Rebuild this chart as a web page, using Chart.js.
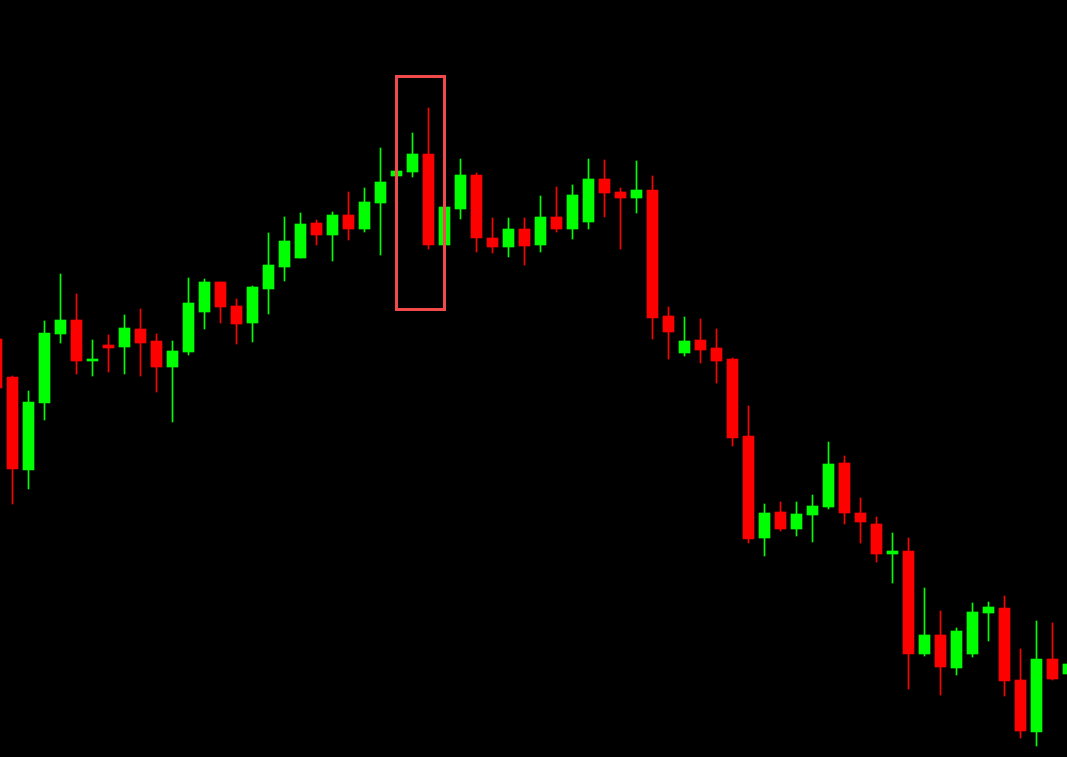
<!DOCTYPE html>
<html>
<head>
<meta charset="utf-8">
<script src="https://cdn.jsdelivr.net/npm/chart.js@4/dist/chart.umd.min.js"></script>
<style>
  html, body { margin: 0; padding: 0; background: #000; }
  #wrap { width: 1067px; height: 757px; position: relative; }
</style>
</head>
<body>
<div id="wrap"><canvas id="myChart"></canvas></div>
<script>
// candle values (first and last candle are cut by the edges)
const openPrices = [418, 380, 287, 354, 423, 437, 396, 412, 410, 428, 416, 390, 405, 445, 475, 451, 434,
  468, 490, 499, 534, 522, 542, 528, 554, 581, 585, 603, 512, 548, 582, 519, 510, 528, 512, 540, 528,
  535, 578, 565, 559, 567, 441, 404, 417, 409, 398, 321, 219, 245, 228, 242, 250, 294, 244, 233, 203,
  206, 103, 122, 89, 103, 144, 149, 77, 25, 98, 83];
const highPrices = [422, 381, 366, 436, 483, 463, 417, 422, 442, 448, 423, 416, 479, 478, 475, 458, 471,
  524, 540, 544, 537, 545, 565, 569, 609, 586, 624, 649, 550, 598, 584, 539, 539, 539, 561, 570, 572,
  598, 597, 569, 596, 581, 450, 440, 438, 428, 399, 351, 253, 255, 255, 262, 315, 301, 259, 240, 224,
  219, 169, 146, 129, 154, 155, 161, 108, 136, 134, 97];
const lowPrices = [365, 253, 268, 337, 414, 383, 381, 385, 383, 381, 365, 335, 402, 428, 434, 413, 415,
  443, 476, 499, 512, 496, 517, 525, 502, 581, 580, 508, 512, 538, 505, 504, 500, 492, 505, 525, 518,
  528, 540, 508, 544, 418, 398, 401, 394, 374, 311, 214, 201, 226, 221, 215, 248, 233, 214, 195, 174,
  68, 101, 62, 82, 100, 116, 61, 19, 11, 77, 79];
const closePrices = [369, 288, 355, 424, 437, 396, 398, 409, 429, 414, 390, 406, 454, 475, 450, 433, 470,
  492, 516, 533, 522, 542, 528, 555, 575, 586, 603, 512, 550, 582, 519, 510, 528, 511, 540, 528, 562,
  578, 564, 559, 567, 439, 425, 416, 407, 396, 319, 218, 244, 228, 243, 251, 293, 244, 235, 203, 206,
  103, 122, 90, 126, 145, 150, 76, 26, 98, 78, 93];

const upColor = "#00ff00";
const downColor = "#ff0000";

// candle number -1 is the one cut at the left edge
const bodies = openPrices.map((o, i) => ({ x: i - 1, y: [o, closePrices[i]] }));
const wicks = lowPrices.map((l, i) => ({ x: i - 1, y: [l, highPrices[i]] }));
const colors = openPrices.map((o, i) => (closePrices[i] >= o ? upColor : downColor));

const highlightBox = {
  id: "highlightBox",
  afterDatasetsDraw(chart) {
    const { ctx, scales } = chart;
    const left = scales.x.getPixelForValue(24);
    const right = scales.x.getPixelForValue(27);
    const top = scales.y.getPixelForValue(680.5);
    const bottom = scales.y.getPixelForValue(447.5);
    ctx.save();
    ctx.strokeStyle = "#f24a4a";
    ctx.lineWidth = 3;
    ctx.strokeRect(left, top, right - left, bottom - top);
    ctx.restore();
  },
};

new Chart(document.getElementById("myChart"), {
  type: "bar",
  data: {
    datasets: [
      {
        data: bodies,
        backgroundColor: colors,
        barThickness: 11,
        grouped: false,
        borderWidth: 0,
      },
      {
        data: wicks,
        backgroundColor: colors,
        barThickness: 1,
        grouped: false,
        borderWidth: 0,
      },
    ],
  },
  options: {
    responsive: true,
    maintainAspectRatio: false,
    animation: false,
    devicePixelRatio: 1,
    layout: { padding: 0 },
    plugins: {
      legend: { display: false },
      tooltip: { enabled: false },
    },
    scales: {
      x: {
        type: "linear",
        display: false,
        offset: false,
        min: -0.78125,
        max: 65.90625,
      },
      y: {
        type: "linear",
        display: false,
        min: 0,
        max: 757,
      },
    },
  },
  plugins: [highlightBox],
});
</script>
</body>
</html>
